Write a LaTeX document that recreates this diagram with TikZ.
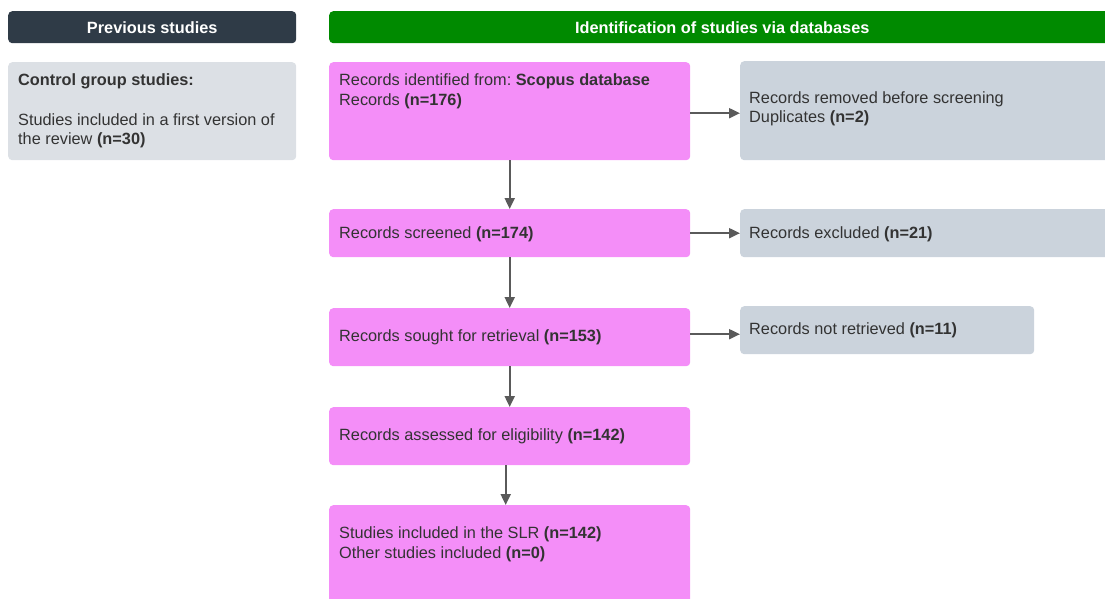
\documentclass[tikz,border=0pt]{standalone}
\usepackage{fontspec}
\setmainfont{Liberation Sans}
\usetikzlibrary{arrows.meta}
\frenchspacing
\definecolor{hdark}{HTML}{2F3B47}
\definecolor{hgreen}{HTML}{008A00}
\definecolor{pinkbox}{HTML}{F48EF8}
\definecolor{graybox}{HTML}{CBD3DC}
\definecolor{ctrlbox}{HTML}{DCE0E5}
\definecolor{txt}{HTML}{333333}
\definecolor{arrc}{HTML}{5A5A5A}
\tikzset{
  box/.style={draw=none,rounded corners=4pt,anchor=north west,inner sep=0pt},
  pbox/.style={box,fill=pinkbox},
  gbox/.style={box,fill=graybox},
  cbox/.style={box,fill=ctrlbox},
  txtn/.style={anchor=base west,inner sep=0pt,text=txt,font=\fontsize{16.3}{20}\selectfont\frenchspacing},
  hdr/.style={text=white,font=\fontsize{16.3}{18}\selectfont\bfseries},
  arr/.style={draw=arrc,line width=2pt,-{Triangle[length=11pt,width=10pt]}}
}
\begin{document}
\begin{tikzpicture}[x=1pt,y=-1pt]
\useasboundingbox (0,0) rectangle (1105,599);
\clip (0,0) rectangle (1105,599);
% headers
\node[box,fill=hdark,minimum width=288pt,minimum height=32pt] (h1) at (8,11) {};
\node[hdr] at (h1.center) {Previous studies};
\node[box,fill=hgreen,minimum width=786pt,minimum height=32pt] (h2) at (329,11) {};
\node[hdr] at (h2.center) {Identification of studies via databases};
% control box
\node[cbox,minimum width=288pt,minimum height=98pt] (c1) at (8,62) {};
\node[txtn] at (18,86) {\textbf{Control group studies:}};
\node[txtn] at (18,125) {Studies included in a first version of};
\node[txtn] at (18,145) {the review \textbf{(n=30)}};
% pink boxes
\node[pbox,minimum width=361pt,minimum height=98pt] (b1) at (329,62) {};
\node[txtn] at (339,86) {Records identified from: \textbf{Scopus database}};
\node[txtn] at (339,106) {Records \textbf{(n=176)}};
\node[pbox,minimum width=361pt,minimum height=48pt] (b2) at (329,209) {};
\node[txtn] at (339,238) {Records screened \textbf{(n=174)}};
\node[pbox,minimum width=361pt,minimum height=58pt] (b3) at (329,308) {};
\node[txtn] at (339,341) {Records sought for retrieval \textbf{(n=153)}};
\node[pbox,minimum width=361pt,minimum height=58pt] (b4) at (329,407) {};
\node[txtn] at (339,440) {Records assessed for eligibility \textbf{(n=142)}};
\node[pbox,minimum width=361pt,minimum height=120pt] (b5) at (329,505) {};
\node[txtn] at (339,538) {Studies included in the SLR \textbf{(n=142)}};
\node[txtn] at (339,558) {Other studies included \textbf{(n=0)}};
% gray boxes
\node[gbox,minimum width=380pt,minimum height=99pt] (g1) at (740,61) {};
\node[txtn] at (749,104) {Records removed before screening};
\node[txtn] at (749,123) {Duplicates \textbf{(n=2)}};
\node[gbox,minimum width=380pt,minimum height=48pt] (g2) at (740,209) {};
\node[txtn] at (749,238) {Records excluded \textbf{(n=21)}};
\node[gbox,minimum width=294pt,minimum height=48pt] (g3) at (740,306) {};
\node[txtn] at (749,334) {Records not retrieved \textbf{(n=11)}};
% connectors
\draw[arr] ([yshift=-2pt]b1.east) -- ([yshift=-2pt]b1.east -| g1.west);
\draw[arr] (b2.east) -- (b2.east -| g2.west);
\draw[arr] ([yshift=3pt]b3.east) -- ([yshift=3pt]b3.east -| g3.west);
\draw[arr] (b1.south) -- (b2.north);
\draw[arr] (b2.south) -- (b3.north);
\draw[arr] (b3.south) -- (b4.north);
\draw[arr] ([xshift=-4pt]b4.south) -- ([xshift=-4pt]b4.south |- b5.north);
\end{tikzpicture}
\end{document}
